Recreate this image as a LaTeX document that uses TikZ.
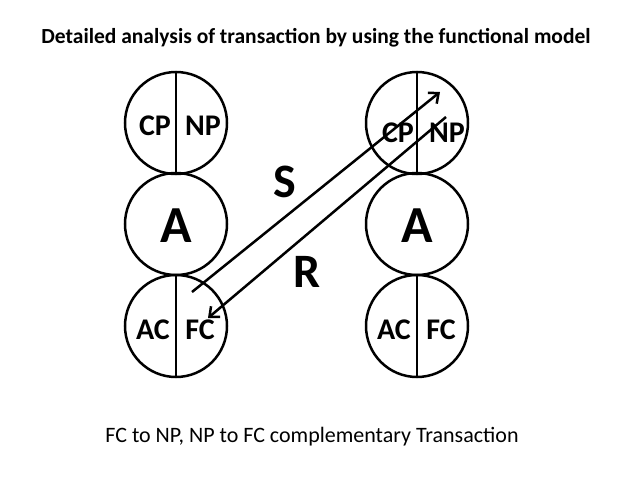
\documentclass[tikz,border=0pt]{standalone}
\usepackage{fontspec}
\setmainfont{Carlito}
\usetikzlibrary{arrows.meta}
\begin{document}
\begin{tikzpicture}[x=1pt,y=-1pt,
  circ/.style={draw,line width=2.5pt,circle,minimum size=102pt,inner sep=0pt},
  lab/.style={font=\bfseries\fontsize{30}{30}\selectfont},
  big/.style={font=\bfseries\fontsize{52}{52}\selectfont},
  arr/.style={line width=2.5pt,-{Straight Barb[length=8pt,width=14pt]}}]
\useasboundingbox (0,0) rectangle (638,479);
\node[font=\bfseries\fontsize{21.5}{21.5}\selectfont] (title) at (316,38) {Detailed analysis of transaction by using the functional model};
\foreach \n/\x in {L/176,R/417}{
  \node[circ] (\n t) at (\x,123) {};
  \node[circ] (\n m) at (\x,224) {};
  \node[circ] (\n b) at (\x,326) {};
  \draw[line width=2.5pt] (\n t.north) -- (\n t.south);
  \draw[line width=2.5pt] (\n b.north) -- (\n b.south);
  \node[big] (\n A) at (\x,226) {A};
}
\node[lab] (cp1) at (155,126) {CP};
\node[lab] (np1) at (203,126) {NP};
\node[lab] (ac1) at (153,330) {AC};
\node[lab] (fc1) at (200,330) {FC};
\node[lab] (cp2) at (398,133) {CP};
\node[lab] (np2) at (447,133) {NP};
\node[lab] (ac2) at (394,330) {AC};
\node[lab] (fc2) at (441,330) {FC};
\node[font=\bfseries\fontsize{48}{48}\selectfont] (S) at (285,182) {S};
\node[font=\bfseries\fontsize{48}{48}\selectfont] (R) at (307,272) {R};
\coordinate (s0) at (192,292); \coordinate (s1) at (440,92);
\coordinate (r0) at (446,117); \coordinate (r1) at (208,318);
\draw[arr] (s0) -- (s1);
\draw[arr] (r0) -- (r1);
\node[font=\fontsize{22}{22}\selectfont] (foot) at (312,437) {FC to NP, NP to FC complementary Transaction};
\end{tikzpicture}
\end{document}
